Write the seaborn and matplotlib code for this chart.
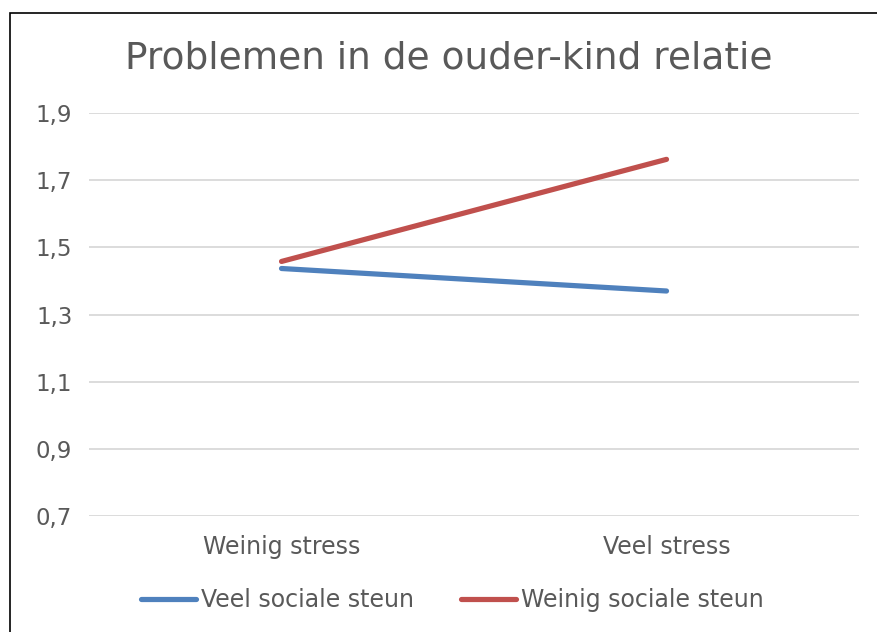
import pandas as pd
import matplotlib.pyplot as plt
import matplotlib.ticker as mticker
import seaborn as sns

# data
categories = ["Weinig stress", "Veel stress"]
veel_steun = [1.437, 1.370]
weinig_steun = [1.458, 1.762]
series_names = ["Veel sociale steun", "Weinig sociale steun"]

df = pd.DataFrame({
    "stress": categories * 2,
    "waarde": veel_steun + weinig_steun,
    "groep": [series_names[0]] * 2 + [series_names[1]] * 2,
})
df["x"] = df["stress"].map({c: i for i, c in enumerate(categories)})

sns.set_style("white")
plt.rcParams["font.family"] = ["DejaVu Sans"]
text_col = "#595959"

fig = plt.figure(figsize=(8.77, 6.32), dpi=100)
ax = fig.add_axes([0.1015, 0.1835, 0.878, 0.6377])

sns.lineplot(data=df, x="x", y="waarde", hue="groep", ax=ax,
             palette=["#4F81BD", "#C0504D"], linewidth=3.75,
             solid_capstyle="round", legend=False)

ax.set_xlim(-0.5, 1.5)
ax.set_ylim(0.7, 1.9)
ax.set_yticks([0.7, 0.9, 1.1, 1.3, 1.5, 1.7, 1.9])
ax.yaxis.set_major_formatter(mticker.FuncFormatter(lambda v, p: f"{v:.1f}".replace(".", ",")))
ax.set_xticks([0, 1])
ax.set_xticklabels(categories)
ax.grid(axis="y", color="#D9D9D9", linewidth=1.3)
ax.set_axisbelow(True)
for s in ax.spines.values():
    s.set_visible(False)
ax.tick_params(axis="y", length=0, pad=12, labelsize=16.5, labelcolor=text_col)
ax.tick_params(axis="x", length=0, pad=14, labelsize=17, labelcolor=text_col)
ax.set_xlabel("")
ax.set_ylabel("")

fig.text(0.512, 0.908, "Problemen in de ouder-kind relatie", ha="center", va="center",
         fontsize=27, color=text_col)

handles = [plt.Line2D([], [], color=c, linewidth=3.75, solid_capstyle="round")
           for c in ["#4F81BD", "#C0504D"]]
fig.legend(handles, series_names, loc="center", bbox_to_anchor=(0.516, 0.051),
           ncol=2, frameon=False, fontsize=17, handlelength=2.33,
           handletextpad=0.2, columnspacing=2.0, labelcolor=text_col,
           borderpad=0, borderaxespad=0)

# outer border of the chart area
fig.add_artist(plt.Rectangle((10 / 877, -0.1), 1.2, 1 - 13 / 632 + 0.1,
                             transform=fig.transFigure, fill=False,
                             edgecolor="black", linewidth=1.2))

fig.savefig("out.png", dpi=100)
